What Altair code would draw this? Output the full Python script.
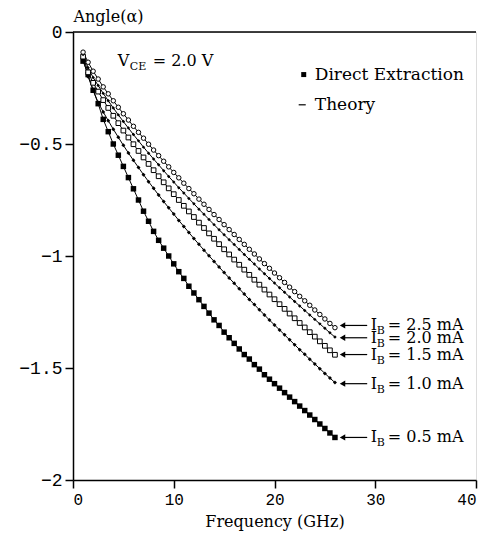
import altair as alt
import pandas as pd

freq = [1.0, 1.5, 2.0, 2.5, 3.0, 3.5, 4.0, 4.5, 5.0, 5.5, 6.0, 6.5, 7.0, 7.5, 8.0, 8.5,
        9.0, 9.5, 10.0, 10.5, 11.0, 11.5, 12.0, 12.5, 13.0, 13.5, 14.0, 14.5, 15.0, 15.5,
        16.0, 16.5, 17.0, 17.5, 18.0, 18.5, 19.0, 19.5, 20.0, 20.5, 21.0, 21.5, 22.0, 22.5,
        23.0, 23.5, 24.0, 24.5, 25.0, 25.5, 26.0]

ib_05 = [-0.13, -0.19, -0.26, -0.32, -0.39, -0.445, -0.50, -0.55, -0.60, -0.65, -0.70, -0.75,
         -0.80, -0.845, -0.89, -0.93, -0.965, -1.00, -1.035, -1.07, -1.10, -1.135, -1.165,
         -1.195, -1.225, -1.255, -1.285, -1.31, -1.34, -1.365, -1.39, -1.415, -1.44, -1.46,
         -1.485, -1.505, -1.53, -1.55, -1.57, -1.59, -1.61, -1.63, -1.65, -1.67, -1.69, -1.71,
         -1.73, -1.75, -1.77, -1.79, -1.81]

ib_10 = [-0.12, -0.20, -0.26, -0.315, -0.357, -0.396, -0.434, -0.470, -0.506, -0.540, -0.573,
         -0.605, -0.637, -0.668, -0.698, -0.728, -0.757, -0.785, -0.813, -0.841, -0.868, -0.895,
         -0.922, -0.948, -0.974, -0.999, -1.024, -1.049, -1.074, -1.098, -1.122, -1.146, -1.170,
         -1.194, -1.217, -1.240, -1.263, -1.286, -1.308, -1.330, -1.352, -1.374, -1.396, -1.418,
         -1.439, -1.461, -1.482, -1.503, -1.524, -1.545, -1.565]

ib_15 = [-0.11, -0.18, -0.227, -0.266, -0.304, -0.339, -0.374, -0.407, -0.440, -0.471, -0.501,
         -0.531, -0.560, -0.589, -0.617, -0.644, -0.671, -0.698, -0.724, -0.750, -0.776, -0.801,
         -0.826, -0.851, -0.875, -0.899, -0.923, -0.947, -0.970, -0.993, -1.016, -1.039, -1.061,
         -1.084, -1.106, -1.128, -1.150, -1.172, -1.193, -1.215, -1.236, -1.257, -1.278, -1.299,
         -1.319, -1.340, -1.360, -1.381, -1.401, -1.421, -1.441]

ib_20 = [-0.10, -0.16, -0.203, -0.239, -0.274, -0.307, -0.339, -0.370, -0.400, -0.429, -0.458,
         -0.486, -0.514, -0.541, -0.567, -0.593, -0.619, -0.645, -0.670, -0.695, -0.719, -0.743,
         -0.767, -0.791, -0.814, -0.837, -0.860, -0.883, -0.905, -0.927, -0.949, -0.971, -0.993,
         -1.015, -1.036, -1.058, -1.079, -1.100, -1.121, -1.142, -1.162, -1.183, -1.203, -1.223,
         -1.243, -1.263, -1.283, -1.303, -1.323, -1.343, -1.362]

ib_25 = [-0.09, -0.135, -0.175, -0.21, -0.245, -0.276, -0.307, -0.336, -0.365, -0.393, -0.421,
         -0.448, -0.474, -0.501, -0.527, -0.552, -0.577, -0.602, -0.627, -0.651, -0.675, -0.699,
         -0.722, -0.746, -0.769, -0.792, -0.815, -0.837, -0.860, -0.882, -0.904, -0.926, -0.948,
         -0.970, -0.991, -1.013, -1.034, -1.055, -1.076, -1.097, -1.118, -1.139, -1.159, -1.180,
         -1.200, -1.220, -1.241, -1.261, -1.281, -1.301, -1.320]

series_names = ["0.5", "1.0", "1.5", "2.0", "2.5"]
series_vals = [ib_05, ib_10, ib_15, ib_20, ib_25]

label_texts = ["= 2.5 mA", "= 2.0 mA", "= 1.5 mA", "= 1.0 mA", "= 0.5 mA"]
label_y = [-1.31, -1.365, -1.44, -1.57, -1.81]

rows = []
for name, vals in zip(series_names, series_vals):
    for f, v in zip(freq, vals):
        rows.append({"f": f, "a": v, "s": name})
df = pd.DataFrame(rows)

lab = pd.DataFrame({"y": label_y, "t": label_texts, "x0": 26.75, "x1": 29.2, "xt": 29.55})

SERIF = "DejaVu Serif"
MONO = "Liberation Mono"

xs = alt.Scale(domain=[0, 40], nice=False, zero=False)
ys = alt.Scale(domain=[-2, 0], nice=False, zero=False)

X = alt.X("f:Q", scale=xs, axis=alt.Axis(
    values=[0, 10, 20, 30, 40], title="Frequency (GHz)", grid=False,
    labelFont=MONO, labelFontSize=16, labelColor="black", labelPadding=3,
    titleFont=SERIF, titleFontSize=16, titleFontWeight="normal", titleColor="black",
    titlePadding=6, tickSize=8, tickWidth=1.5, tickColor="black",
    domainColor="black", domainWidth=1.5))
Y = alt.Y("a:Q", scale=ys, axis=alt.Axis(
    values=[0, -0.5, -1, -1.5, -2], format="~g", title="Angle(α)", grid=False,
    labelFont=MONO, labelFontSize=18, labelColor="black", labelPadding=3,
    titleFont=SERIF, titleFontSize=16, titleFontWeight="normal", titleColor="black",
    titleAngle=0, titleX=0, titleY=-8, titleAlign="left", titleBaseline="bottom",
    tickSize=8, tickWidth=1.5, tickColor="black",
    domainColor="black", domainWidth=1.5))

base = alt.Chart(df)

lines = base.mark_line(color="black", strokeWidth=1).encode(x=X, y=Y, detail="s:N")

def pts(name, shape, size, filled):
    kw = dict(shape=shape, size=size, filled=filled, color="black", opacity=1)
    if not filled:
        kw.update(strokeWidth=1, fill="white")
    return base.transform_filter(alt.datum.s == name).mark_point(**kw).encode(
        x=alt.X("f:Q", scale=xs), y=alt.Y("a:Q", scale=ys))

p05 = pts("0.5", "square", 30, True)
p10 = pts("1.0", "diamond", 16, True)
p15 = pts("1.5", "square", 22, False)
p20 = pts("2.0", "diamond", 12, True)
p25 = pts("2.5", "circle", 20, False)

top = alt.Chart(pd.DataFrame({"x": [0], "x2": [40], "y": [0]})).mark_rule(
    color="black", strokeWidth=1.5).encode(
    x=alt.X("x:Q", scale=xs), x2="x2:Q", y=alt.Y("y:Q", scale=ys))

lb = alt.Chart(lab)
arrow_line = lb.mark_rule(color="black", strokeWidth=1.2).encode(
    x=alt.X("x0:Q", scale=xs), x2="x1:Q", y=alt.Y("y:Q", scale=ys))
arrow_head = lb.mark_point(shape="triangle-left", size=40, filled=True, color="black",
                           opacity=1).encode(x=alt.X("x0:Q", scale=xs), y=alt.Y("y:Q", scale=ys))
lab_I = lb.mark_text(text="I", font=SERIF, fontSize=16, align="left", baseline="middle",
                     color="black").encode(x=alt.X("xt:Q", scale=xs), y=alt.Y("y:Q", scale=ys))
lab_B = lb.mark_text(text="B", font=SERIF, fontSize=11, align="left", baseline="middle",
                     color="black", dx=6, dy=6).encode(x=alt.X("xt:Q", scale=xs),
                                                        y=alt.Y("y:Q", scale=ys))
lab_T = lb.mark_text(font=SERIF, fontSize=16, align="left", baseline="middle",
                     color="black", dx=17).encode(x=alt.X("xt:Q", scale=xs),
                                                   y=alt.Y("y:Q", scale=ys), text="t:N")

leg_pt = alt.Chart(pd.DataFrame({"x": [22.9], "y": [-0.19]})).mark_point(
    shape="square", size=25, filled=True, color="black", opacity=1).encode(
    x=alt.X("x:Q", scale=xs), y=alt.Y("y:Q", scale=ys))
leg_dash = alt.Chart(pd.DataFrame({"x": [22.4], "x2": [23.1], "y": [-0.325]})).mark_rule(
    color="black", strokeWidth=1.2).encode(
    x=alt.X("x:Q", scale=xs), x2="x2:Q", y=alt.Y("y:Q", scale=ys))
leg_txt = alt.Chart(pd.DataFrame({"x": [24.0, 24.0], "y": [-0.19, -0.325],
                                  "t": ["Direct Extraction", "Theory"]})).mark_text(
    font=SERIF, fontSize=17, align="left", baseline="middle", color="black").encode(
    x=alt.X("x:Q", scale=xs), y=alt.Y("y:Q", scale=ys), text="t:N")

vce = pd.DataFrame({"x": [4.45], "y": [-0.13]})
v_V = alt.Chart(vce).mark_text(text="V", font=SERIF, fontSize=16, align="left",
                               baseline="middle", color="black").encode(
    x=alt.X("x:Q", scale=xs), y=alt.Y("y:Q", scale=ys))
v_CE = alt.Chart(vce).mark_text(text="CE", font=SERIF, fontSize=11, align="left",
                                baseline="middle", color="black", dx=12, dy=6).encode(
    x=alt.X("x:Q", scale=xs), y=alt.Y("y:Q", scale=ys))
v_rest = alt.Chart(vce).mark_text(text="= 2.0 V", font=SERIF, fontSize=16, align="left",
                                  baseline="middle", color="black", dx=35).encode(
    x=alt.X("x:Q", scale=xs), y=alt.Y("y:Q", scale=ys))

chart = alt.layer(
    lines, p05, p10, p15, p20, p25, top,
    arrow_line, arrow_head, lab_I, lab_B, lab_T,
    leg_pt, leg_dash, leg_txt, v_V, v_CE, v_rest
).properties(
    width=403, height=448,
    padding={"left": 65, "top": 24, "right": 7, "bottom": 51},
    autosize=alt.AutoSizeParams(type="none"),
).configure_view(stroke=None).configure(background="white")

chart.save("out.html", embed_options={"renderer": "svg", "actions": False})
